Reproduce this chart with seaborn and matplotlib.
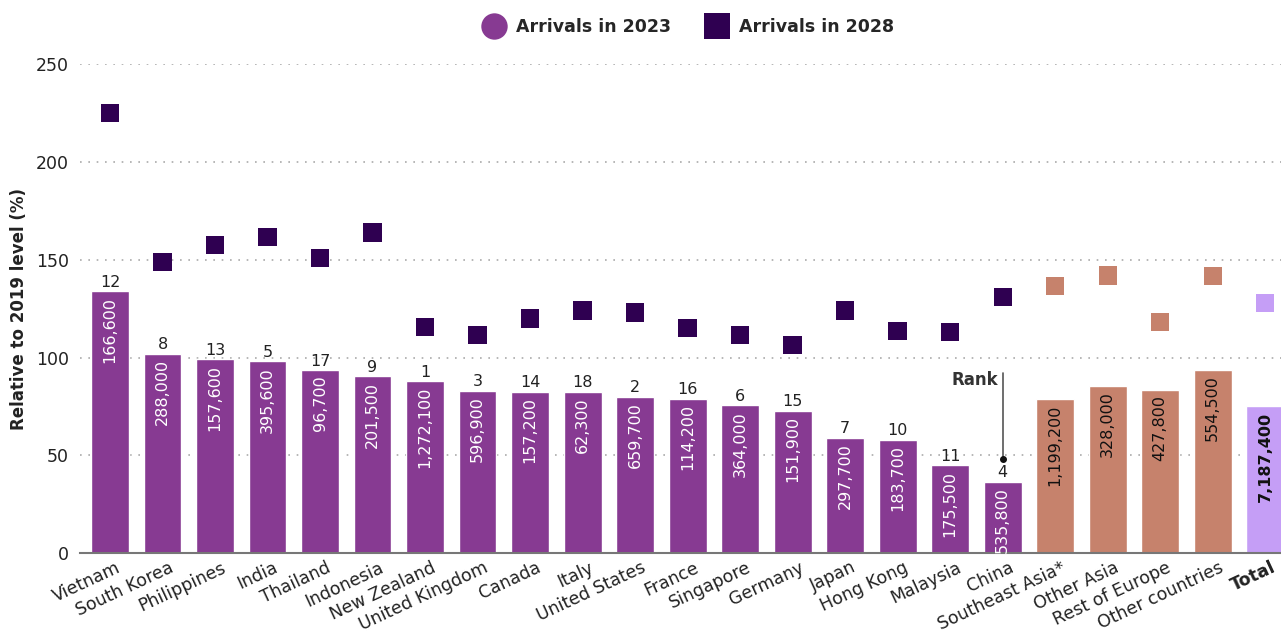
import matplotlib
matplotlib.use("Agg")
import matplotlib.pyplot as plt
import matplotlib.transforms as mtransforms
import seaborn as sns
import pandas as pd
from matplotlib.lines import Line2D

categories = ["Vietnam", "South Korea", "Philippines", "India", "Thailand", "Indonesia",
              "New Zealand", "United Kingdom", "Canada", "Italy", "United States", "France",
              "Singapore", "Germany", "Japan", "Hong Kong", "Malaysia", "China",
              "Southeast Asia*", "Other Asia", "Rest of Europe", "Other countries", "Total"]
rel_2023 = [134, 102, 99, 98, 93.6, 90.5, 88, 83, 82.5, 82.5, 80, 79, 75.5, 72.8, 59, 58,
            45, 36.5, 78.8, 85.5, 83.5, 93.8, 75.2]
rel_2028 = [225, 148.8, 157.5, 161.6, 150.8, 164, 115.5, 111.5, 120, 124, 123, 115, 111.5,
            106.3, 124, 113.5, 113, 131, 136.5, 142, 118, 141.6, 127.8]
arrivals_2023 = ["166,600", "288,000", "157,600", "395,600", "96,700", "201,500", "1,272,100",
                 "596,900", "157,200", "62,300", "659,700", "114,200", "364,000", "151,900",
                 "297,700", "183,700", "175,500", "535,800", "1,199,200", "328,000",
                 "427,800", "554,500", "7,187,400"]
ranks = ["12", "8", "13", "5", "17", "9", "1", "3", "14", "18", "2", "16", "6", "15", "7",
         "10", "11", "4", "", "", "", "", ""]
groups = ["country"] * 18 + ["region"] * 4 + ["total"]

bar_colors = {"country": "#873A92", "region": "#C6826C", "total": "#C59EF6"}
sq_colors = {"country": "#2F0051", "region": "#C6826C", "total": "#C59EF6"}

df = pd.DataFrame({"cat": categories, "v23": rel_2023, "v28": rel_2028,
                   "grp": groups, "arr": arrivals_2023, "rank": ranks})

sns.set_theme(style="white")
plt.rcParams["font.family"] = ["DejaVu Sans"]

fig = plt.figure(figsize=(12.81, 6.35), dpi=100)
ax = fig.add_axes([0.0625, 0.129, 0.9375, 0.770])

palette = [bar_colors[g] for g in groups]
sns.barplot(data=df, x="cat", y="v23", hue="cat", palette=palette, legend=False,
            width=0.72, ax=ax, saturation=1, zorder=2)

sq_pal = [sq_colors[g] for g in groups]
sns.scatterplot(data=df, x="cat", y="v28", hue="cat", palette=sq_pal, legend=False,
                marker="s", s=175, linewidth=0, ax=ax, zorder=3, clip_on=False)

ax.set_xlim(-0.57, 22.3)
ax.set_ylim(0, 250)
ax.set_yticks([0, 50, 100, 150, 200, 250])
ax.tick_params(axis="y", labelsize=12.5, colors="#222222", length=0, pad=8)
ax.yaxis.grid(True, linestyle=(0, (1, 4)), color="#AAAAAA", linewidth=1.2, zorder=0)
ax.xaxis.grid(False)
for s in ["top", "right", "left"]:
    ax.spines[s].set_visible(False)
ax.spines["bottom"].set_color("#777777")
ax.spines["bottom"].set_linewidth(1.5)
ax.spines["bottom"].set_zorder(4)

ax.set_xlabel("")
ax.set_ylabel("Relative to 2019 level (%)", fontsize=12, fontweight="bold",
              color="#222222", labelpad=6)

ax.set_xticks(range(len(categories)))
ax.set_xticklabels(categories, rotation=25, ha="right", rotation_mode="anchor",
                   fontsize=12.5, color="#222222")
ax.tick_params(axis="x", length=0, pad=4)
offset = mtransforms.ScaledTranslation(6 / 100, 0, fig.dpi_scale_trans)
for lbl in ax.get_xticklabels():
    lbl.set_transform(lbl.get_transform() + offset)
    if lbl.get_text() == "Total":
        lbl.set_fontweight("bold")

for i, row in df.iterrows():
    if row["grp"] == "country":
        col, fw = "white", "normal"
    elif row["grp"] == "region":
        col, fw = "#111111", "normal"
    else:
        col, fw = "#111111", "bold"
    ax.annotate(row["arr"], (i, row["v23"]), xytext=(0, -4), textcoords="offset points",
                rotation=90, ha="center", va="top", fontsize=11.5, color=col,
                fontweight=fw, zorder=5)
    if row["rank"]:
        ax.annotate(row["rank"], (i, row["v23"]), xytext=(0, 1), textcoords="offset points",
                    ha="center", va="bottom", fontsize=11.5, color="#222222", zorder=5)

# Rank annotation
ax.plot([17.0, 17.0], [48, 92], color="#555555", linewidth=1.2, zorder=6)
ax.plot([17.0], [48], marker="o", markersize=4, color="#111111", zorder=6)
ax.text(16.92, 88.5, "Rank", ha="right", va="center", fontsize=12, fontweight="bold",
        color="#333333", zorder=6)

handles = [Line2D([0], [0], marker="o", linestyle="", markersize=19,
                  markerfacecolor=bar_colors["country"], markeredgewidth=0),
           Line2D([0], [0], marker="s", linestyle="", markersize=19,
                  markerfacecolor=sq_colors["country"], markeredgewidth=0)]
fig.legend(handles, ["Arrivals in 2023", "Arrivals in 2028"], loc="center",
           bbox_to_anchor=(0.535, 0.957), ncol=2, frameon=False,
           prop={"weight": "bold", "size": 12.5}, handletextpad=0.25, columnspacing=1.7)

fig.savefig("out.png", dpi=100)
